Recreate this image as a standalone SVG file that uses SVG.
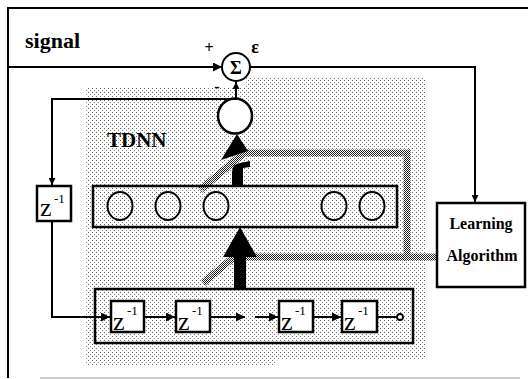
<svg xmlns="http://www.w3.org/2000/svg" width="528" height="379" viewBox="0 0 528 379">
<defs>
<pattern id="dots" width="4" height="4" patternUnits="userSpaceOnUse">
<rect x="0" y="0" width="1" height="1" fill="#666"/>
<rect x="2" y="2" width="1" height="1" fill="#888"/>
</pattern>
<pattern id="dense" width="2" height="2" patternUnits="userSpaceOnUse">
<rect x="0" y="0" width="1" height="1" fill="#222"/>
<rect x="1" y="1" width="1" height="1" fill="#222"/>
</pattern>
<marker id="ah" viewBox="0 0 10 10" refX="10" refY="5" markerWidth="9" markerHeight="7" markerUnits="userSpaceOnUse" orient="auto">
<path d="M0,0 L10,5 L0,10 Z" fill="#000"/>
</marker>
<marker id="ahl" viewBox="0 0 10 10" refX="10" refY="5" markerWidth="16" markerHeight="9" markerUnits="userSpaceOnUse" orient="auto">
<path d="M0,0 L10,5 L0,10 Z" fill="#000"/>
</marker>
</defs>
<style>
.ln{fill:none;stroke:#000;stroke-width:2}
.box{fill:#fff;stroke:#000;stroke-width:2.5}
.boxs{fill:url(#dots);stroke:#000;stroke-width:2.5}
.neu{fill:none;stroke:#000;stroke-width:2}
.band{fill:none;stroke:url(#dense);stroke-width:7}
.t{font-family:"Liberation Serif",serif;font-weight:bold;fill:#000}
.z{font-family:"Liberation Serif",serif;font-size:26px;fill:#000}
.sup{font-family:"Liberation Serif",serif;font-size:13px;fill:#000}
</style>
<rect width="528" height="379" fill="#fff"/>
<!-- frame -->
<path d="M8 378 L8 8 L528 8" fill="none" stroke="#000" stroke-width="2"/>
<line x1="40" y1="378" x2="520" y2="378" stroke="#bbb" stroke-width="1.5"/>
<!-- dithered background -->
<path d="M85 88 L245 88 L245 78 L425 78 L425 360 L275 360 L275 366 L85 366 Z" fill="url(#dots)"/>
<!-- weight update bands -->
<g id="bands">
<path class="band" d="M200 190 L244 153 L407 153 L407 257 L437 257"/>
<path class="band" d="M203 283 L234 257 L407 257"/>
</g>
<g id="signal-label"><text class="t" x="25" y="48" font-size="22">signal</text></g>
<g id="tdnn-label"><text class="t" x="107" y="147" font-size="21">TDNN</text></g>
<g id="sum">
<circle cx="236" cy="67" r="14" fill="#fff" stroke="#000" stroke-width="2"/>
<text class="t" x="236" y="73.5" font-size="18" text-anchor="middle">Σ</text>
<text class="t" x="209" y="53" font-size="16" text-anchor="middle">+</text>
<text class="t" x="217" y="92" font-size="16" text-anchor="middle">-</text>
<text class="t" x="255" y="53" font-size="18" text-anchor="middle">ε</text>
</g>
<g id="output-neuron"><ellipse cx="235" cy="116" rx="17" ry="17.5" fill="#fff" stroke="#000" stroke-width="2.5"/></g>
<g id="hidden-layer">
<rect class="boxs" x="93" y="186" width="304" height="41"/>
<ellipse class="neu" cx="120" cy="206" rx="12.5" ry="14"/>
<ellipse class="neu" cx="168" cy="206" rx="12.5" ry="14"/>
<ellipse class="neu" cx="216" cy="206" rx="12.5" ry="14"/>
<ellipse class="neu" cx="334" cy="206" rx="12.5" ry="14"/>
<ellipse class="neu" cx="372" cy="206" rx="12.5" ry="14"/>
</g>
<g id="feedback-delay">
<rect class="box" x="37" y="186" width="34" height="35"/>
<text class="z" x="40" y="216">z</text><text class="sup" x="54" y="203">-1</text>
</g>
<g id="delay-line">
<rect class="boxs" x="95" y="289" width="318" height="54"/>
<rect class="box" x="111" y="301" width="33" height="31"/>
<text class="z" x="113" y="330">z</text><text class="sup" x="127" y="315">-1</text>
<rect class="box" x="176" y="301" width="34" height="31"/>
<text class="z" x="178" y="330">z</text><text class="sup" x="192" y="315">-1</text>
<rect class="box" x="279" y="301" width="34" height="31"/>
<text class="z" x="281" y="330">z</text><text class="sup" x="295" y="315">-1</text>
<rect class="box" x="342" y="301" width="35" height="31"/>
<text class="z" x="344" y="330">z</text><text class="sup" x="358" y="315">-1</text>
<circle cx="400" cy="317" r="3" fill="#fff" stroke="#000" stroke-width="1.8"/>
</g>
<g id="learning-algorithm">
<rect class="box" x="437" y="203" width="88" height="84"/>
<text class="t" x="481" y="229" font-size="16" text-anchor="middle">Learning</text>
<text class="t" x="482" y="261" font-size="16" text-anchor="middle">Algorithm</text>
</g>
<g id="connectors">
<line class="ln" x1="8" y1="67" x2="222" y2="67" marker-end="url(#ahl)"/>
<line class="ln" x1="236" y1="99" x2="236" y2="82" marker-end="url(#ah)"/>
<path class="ln" d="M236 99 L52 99 L52 185" marker-end="url(#ah)"/>
<path class="ln" d="M52 221 L52 317 L110 317" marker-end="url(#ahl)"/>
<path class="ln" d="M250 67 L475 67 L475 202" marker-end="url(#ah)"/>
<line class="ln" x1="144" y1="317" x2="175" y2="317" marker-end="url(#ahl)"/>
<line class="ln" x1="210" y1="317" x2="245" y2="317" marker-end="url(#ahl)"/>
<line class="ln" x1="255" y1="317" x2="278" y2="317" marker-end="url(#ahl)"/>
<line class="ln" x1="313" y1="317" x2="341" y2="317" marker-end="url(#ahl)"/>
<line class="ln" x1="377" y1="317" x2="397" y2="317"/>
<!-- big arrows -->
<polygon points="237,134 221,160 248,151" fill="#000"/>
<path d="M232 187 L232 172 Q232 164 240 163 L250 161 L250 167 L243 168 L243 187 Z" fill="#000"/>
<polygon points="240,227 223,257 257,257" fill="#000"/>
<rect x="234" y="257" width="12" height="32" fill="#000"/>
</g>
</svg>
